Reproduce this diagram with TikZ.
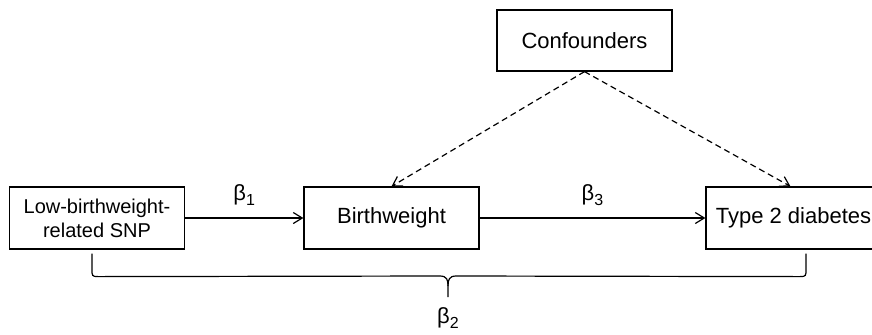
\documentclass[tikz,border=0pt]{standalone}
\usepackage{fontspec}
\setmainfont{Liberation Sans}
\usetikzlibrary{arrows.meta,calc}

\newcommand{\coefsym}[1]{β\raisebox{-2.5pt}{\fontsize{8}{8}\selectfont #1}}

\tikzset{
    varbox/.style={draw, line width=0.6pt, minimum width=87.5pt, minimum height=31pt,
        align=center, inner sep=2pt, font=\fontsize{11}{13}\selectfont},
    effect/.style={-{Straight Barb[length=4.5pt,width=5.5pt]}, line width=0.6pt},
    confound/.style={effect, dash pattern=on 3pt off 2pt},
    coeflabel/.style={font=\fontsize{11}{13}\selectfont, inner sep=1pt}
}

\begin{document}
\begin{tikzpicture}[x=0.5pt, y=-0.5pt]
    \useasboundingbox (0,0) rectangle (872,334);

    % variables
    \node[varbox, font=\fontsize{10}{12}\selectfont] (snp) at (97,218) {Low-birthweight-\\related SNP};
    \node[varbox] (bw) at (391.5,218) {Birthweight};
    \node[varbox, minimum height=30.5pt] (conf) at (584.5,40.5) {Confounders};
    \node[varbox] (t2d) at (793.5,218) {Type 2 diabetes};

    % causal paths
    \draw[effect] (snp) -- node[coeflabel, above=5pt] (b1) {\coefsym{1}} (bw);
    \draw[effect] (bw) -- node[coeflabel, above=5pt] (b3) {\coefsym{3}} (t2d);

    % confounding
    \draw[confound] (conf.south) -- (bw.north);
    \draw[confound] (conf.south) -- ($(t2d.north)+(-3,0)$);

    % total effect brace
    \coordinate (braceL) at ($(snp.south)+(-5,4)$);
    \coordinate (braceR) at ($(t2d.south)+(12.5,4)$);
    \coordinate (braceTip) at (448,297);
    \draw[line width=0.6pt] (braceL) -- ++(0,16) .. controls ++(0,6) and ++(-6,0) .. ($(braceL)+(6,23)$)
        -- ($(braceTip)+(-8,-21)$) .. controls ($(braceTip)+(-1,-21)$) and ($(braceTip)+(0,-17)$) .. ($(braceTip)+(0,-11)$)
        -- (braceTip);
    \draw[line width=0.6pt] (braceR) -- ++(0,16) .. controls ++(0,6) and ++(6,0) .. ($(braceR)+(-6,23)$)
        -- ($(braceTip)+(8,-21)$) .. controls ($(braceTip)+(1,-21)$) and ($(braceTip)+(0,-17)$) .. ($(braceTip)+(0,-11)$);
    \node[coeflabel, below=4pt] (b2) at (braceTip) {\coefsym{2}};
\end{tikzpicture}
\end{document}
